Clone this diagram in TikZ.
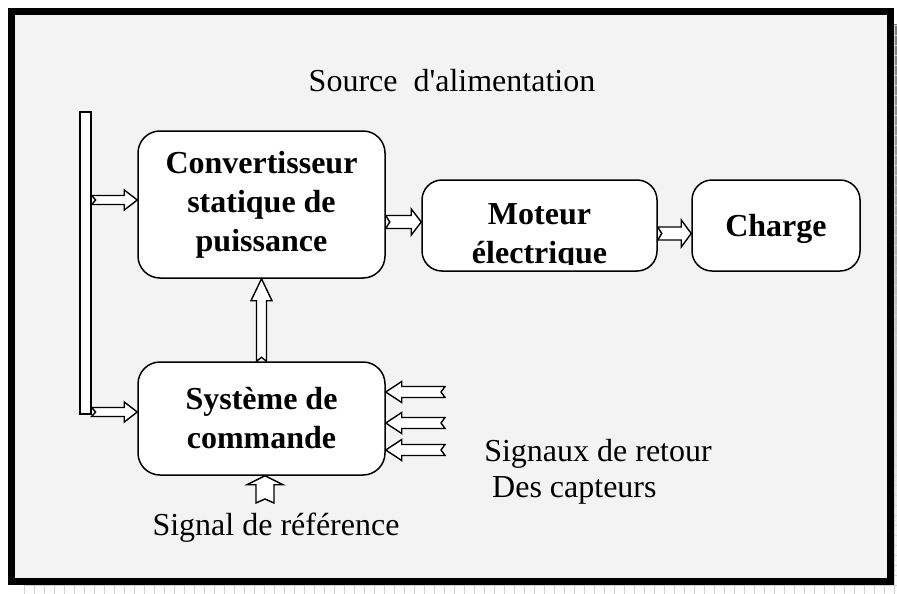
\documentclass[tikz,border=0pt]{standalone}
\usepackage{fontspec}
\newfontfamily\serif{Liberation Serif}
\usetikzlibrary{calc}
\definecolor{panel}{HTML}{F3F3F3}
\definecolor{shade}{HTML}{BDBDBD}
\definecolor{shadeline}{HTML}{D2D2D2}

\tikzset{
  box/.style={draw, line width=1.5pt, fill=white, rounded corners=22pt, inner sep=0pt},
  blk/.style={draw, line width=1.4pt, fill=white, line join=miter},
  lbl/.style={font=\serif\fontsize{32}{39}\selectfont, inner sep=0pt, anchor=base},
  blbl/.style={font=\serif\bfseries\fontsize{32}{39}\selectfont, align=center, inner sep=0pt},
}

% hollow block arrows with a notched tail
% #1 tail, #2 tip, #3 half shaft width, #4 half head width, #5 head length
\newcommand\arrowright[5]{%
  \draw[blk] let \p1=(#1), \p2=(#2) in
    (\x1,\y2+#3) -- (\x2-#5,\y2+#3) -- (\x2-#5,\y2+#4) -- (\x2,\y2)
    -- (\x2-#5,\y2-#4) -- (\x2-#5,\y2-#3) -- (\x1,\y2-#3) -- (\x1+4pt,\y2) -- cycle;}
\newcommand\arrowleft[5]{%
  \draw[blk] let \p1=(#1), \p2=(#2) in
    (\x1,\y2+#3) -- (\x2+#5,\y2+#3) -- (\x2+#5,\y2+#4) -- (\x2,\y2)
    -- (\x2+#5,\y2-#4) -- (\x2+#5,\y2-#3) -- (\x1,\y2-#3) -- (\x1-4pt,\y2) -- cycle;}
\newcommand\arrowup[5]{%
  \draw[blk] let \p1=(#1), \p2=(#2) in
    (\x2-#3,\y1) -- (\x2-#3,\y2-#5) -- (\x2-#4,\y2-#5) -- (\x2,\y2)
    -- (\x2+#4,\y2-#5) -- (\x2+#3,\y2-#5) -- (\x2+#3,\y1) -- (\x2,\y1+4pt) -- cycle;}

\begin{document}
\begin{tikzpicture}[x=1pt,y=-1pt]
  \useasboundingbox (0,0) rectangle (897,594);
  \fill[white] (0,0) rectangle (897,594);

  % drop shadow with a fine grid
  \fill[shade] (24,25) rectangle (897,594);
  \foreach \i in {0,...,87} \draw[shadeline, line width=0.7pt] (24+10*\i,25) -- (24+10*\i,594);
  \foreach \j in {0,...,57} \draw[shadeline, line width=0.7pt] (24,25+10*\j) -- (897,25+10*\j);

  % frame
  \draw[line width=7pt, fill=panel] (11.5,11.5) rectangle (890.5,581.5);

  % supply bus
  \node[draw, line width=1.3pt, fill=white, minimum width=11pt, minimum height=302pt, inner sep=0pt] (bus) at (85.5,263) {};

  % blocks
  \node[box, minimum width=247pt, minimum height=147pt, blbl] (conv) at (261.5,204.5)
    {Convertisseur\\statique de\\puissance};
  \node[box, minimum width=235pt, minimum height=91pt, rounded corners=20pt] (mot) at (539.5,225.5) {};
  \begin{scope}
    \clip (422,180) rectangle (657,264);
    \node[blbl] (motlbl) at (539.5,237) {Moteur\\électrique};
  \end{scope}
  \node[box, minimum width=168pt, minimum height=91pt, rounded corners=20pt] (charge) at (776,225.5) {};
  \node[blbl, anchor=base] (chlbl) at (776,236) {Charge};
  \node[box, minimum width=247pt, minimum height=113pt, blbl] (cmd) at (261.5,418.5)
    {Système de\\commande};

  % labels
  \node[lbl] (src) at (452,92) {Source~~d'alimentation};
  \node[lbl] (ret1) at (598,461) {Signaux de retour};
  \node[lbl, anchor=base west] (ret2) at (492,497) {Des capteurs};
  \node[lbl] (sigref) at (276,535) {Signal de référence};

  % free ends of the arrows
  \coordinate (fb1) at (445,392);
  \coordinate (fb2) at (445,423);
  \coordinate (fb3) at (445,450);
  \coordinate (reft) at (265,503);

  % power and signal arrows
  \arrowright{bus.east}{conv.west |- 0,200}{4.5pt}{10pt}{13pt}
  \arrowright{bus.east}{cmd.west |- 0,412}{4.5pt}{10pt}{13pt}
  \arrowright{conv.east}{mot.west |- 0,222}{6.5pt}{13pt}{10pt}
  \arrowright{mot.east}{charge.west |- 0,233.5}{6.5pt}{13.5pt}{10pt}
  \arrowup{cmd.north}{conv.south}{5pt}{10.5pt}{22pt}
  \arrowleft{fb1}{cmd.east |- fb1}{5.5pt}{10.5pt}{16pt}
  \arrowleft{fb2}{cmd.east |- fb2}{5.5pt}{10.5pt}{16pt}
  \arrowleft{fb3}{cmd.east |- fb3}{5.5pt}{10.5pt}{16pt}
  \arrowup{reft}{cmd.south -| reft}{9pt}{18pt}{9pt}
\end{tikzpicture}
\end{document}
